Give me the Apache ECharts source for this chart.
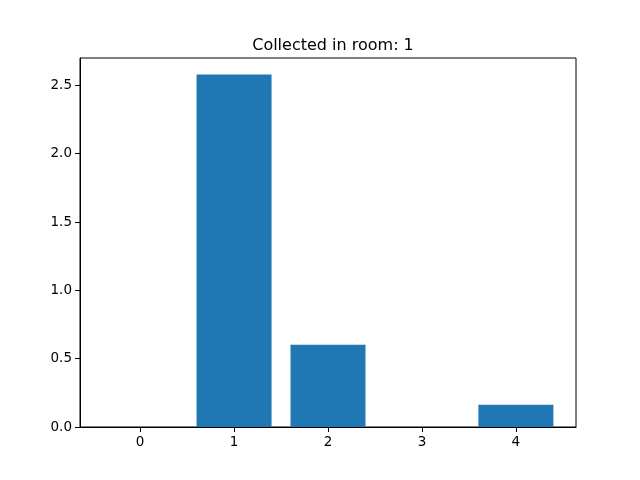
<!DOCTYPE html>
<html>
<head>
<meta charset="utf-8">
<script src="https://cdn.jsdelivr.net/npm/echarts@6/dist/echarts.min.js"></script>
<style>
  html, body { margin: 0; padding: 0; background: #fff; }
  #main { width: 640px; height: 480px; }
</style>
</head>
<body>
<div id="main"></div>
<script>
// room indices and collected amounts
var rooms = [0, 1, 2, 3, 4];
var collected = [0, 2.579, 0.602, 0, 0.163];
var yTicks = [0, 0.5, 1.0, 1.5, 2.0, 2.5];

var myChart = echarts.init(document.getElementById('main'));

var font = 'DejaVu Sans';

var option = {
  animation: false,
  title: {
    text: 'Collected in room: 1',
    left: 328,
    textAlign: 'center',
    top: 33,
    textStyle: { fontFamily: font, fontSize: 16, fontWeight: 'normal', color: '#000' }
  },
  grid: {
    left: 80, right: 64, top: 58, bottom: 53,
    show: true, borderColor: '#000', borderWidth: 1, backgroundColor: 'transparent'
  },
  xAxis: {
    type: 'value',
    min: -0.64,
    max: 4.64,
    splitLine: { show: false },
    axisLine: { onZero: false, lineStyle: { color: '#000' } },
    axisTick: { customValues: rooms, length: 5, lineStyle: { color: '#000' } },
    axisLabel: {
      customValues: rooms,
      color: '#000', fontFamily: font, fontSize: 13.5, margin: 8
    }
  },
  yAxis: {
    type: 'value',
    min: 0,
    max: 2.7,
    splitLine: { show: false },
    axisLine: { show: true, onZero: false, lineStyle: { color: '#000' } },
    axisTick: { show: true, customValues: yTicks, length: 5, lineStyle: { color: '#000' } },
    axisLabel: {
      customValues: yTicks,
      color: '#000', fontFamily: font, fontSize: 13.5, margin: 8,
      formatter: function (v) { return v.toFixed(1); }
    }
  },
  series: [{
    type: 'bar',
    data: rooms.map(function (r, i) { return [r, collected[i]]; }),
    barWidth: 75,
    itemStyle: { color: '#1f77b4' }
  }]
};

option && myChart.setOption(option);
</script>
</body>
</html>
